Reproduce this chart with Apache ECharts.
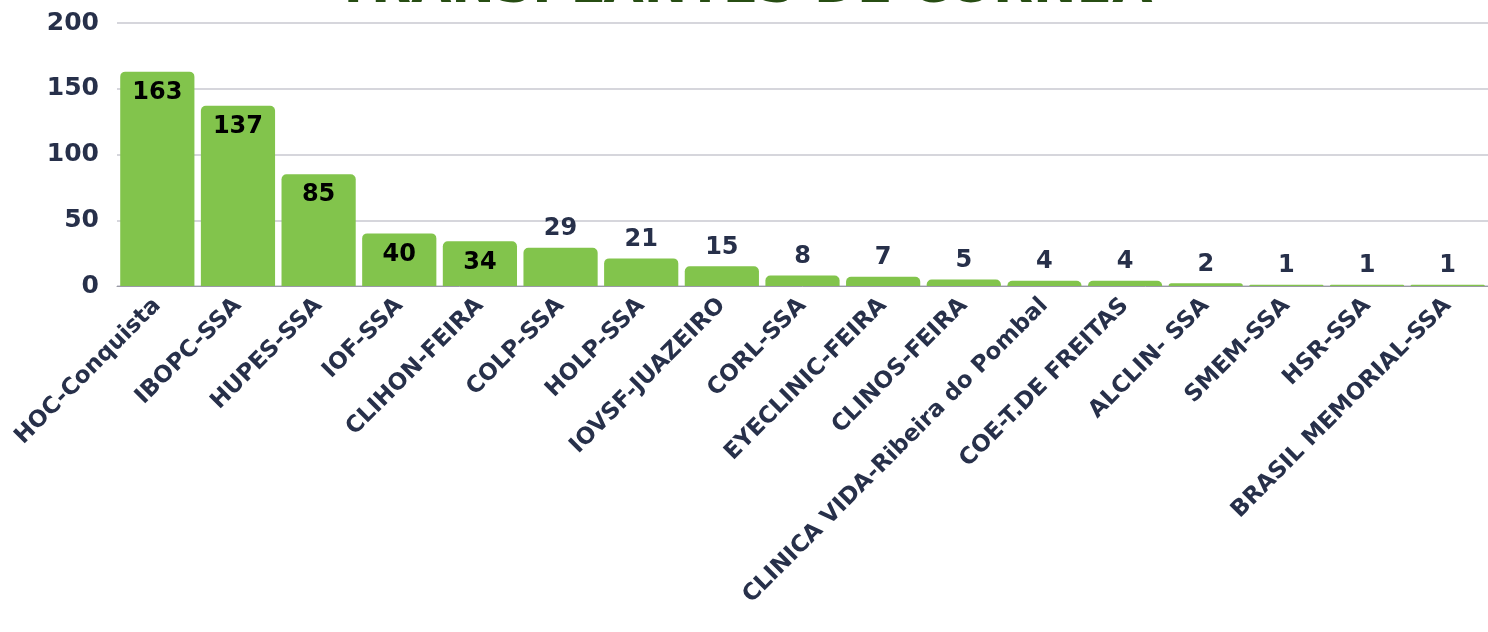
<!DOCTYPE html>
<html><head><meta charset="utf-8">
<script src="https://cdn.jsdelivr.net/npm/echarts@6/dist/echarts.min.js"></script>
<style>html,body{margin:0;padding:0;background:#fff}#c{width:1488px;height:632px}</style>
</head><body><div id="c"></div>
<script>
const titleText = 'TRANSPLANTES DE CÓRNEA';
const categories = ['HOC-Conquista','IBOPC-SSA','HUPES-SSA','IOF-SSA','CLIHON-FEIRA','COLP-SSA','HOLP-SSA','IOVSF-JUAZEIRO','CORL-SSA','EYECLINIC-FEIRA','CLINOS-FEIRA','CLINICA VIDA-Ribeira do Pombal','COE-T.DE FREITAS','ALCLIN- SSA','SMEM-SSA','HSR-SSA','BRASIL MEMORIAL-SSA'];
const values = [163,137,85,40,34,29,21,15,8,7,5,4,4,2,1,1,1];
const yTicks = [0,50,100,150,200];

const FONT = '"DejaVu Sans", sans-serif';
const chart = echarts.init(document.getElementById('c'));
chart.setOption({
  animation:false,
  title:{text:titleText,left:'center',top:-43,textStyle:{fontFamily:FONT,fontSize:52,fontWeight:'bold',color:'#274d13'}},
  grid:{left:117,right:-13,top:23,bottom:346,containLabel:false},
  xAxis:{type:'category',data:categories,
    axisTick:{show:false},
    axisLine:{lineStyle:{color:'#9a9aa6',width:1}},
    axisLabel:{rotate:45,interval:0,margin:16,fontFamily:FONT,fontSize:23,fontWeight:'bold',color:'#27304a'}},
  yAxis:{type:'value',min:yTicks[0],max:yTicks[yTicks.length-1],interval:50,
    axisLine:{show:false},axisTick:{show:false},
    splitLine:{lineStyle:{color:'#c8c8d0',width:1.5}},
    axisLabel:{margin:18,fontFamily:FONT,fontSize:25,fontWeight:'bold',color:'#27304a'}},
  series:[{type:'bar',data:values.map(v=>({value:v,label: v>=34?{position:'insideTop',color:'#000',distance:9}:{position:'top',color:'#27304a',distance:7}})),
    barWidth:'92%',
    itemStyle:{color:'#82c44c',borderRadius:[5,5,0,0]},
    label:{show:true,fontFamily:FONT,fontSize:24,fontWeight:'bold'}}]
});
</script></body></html>
